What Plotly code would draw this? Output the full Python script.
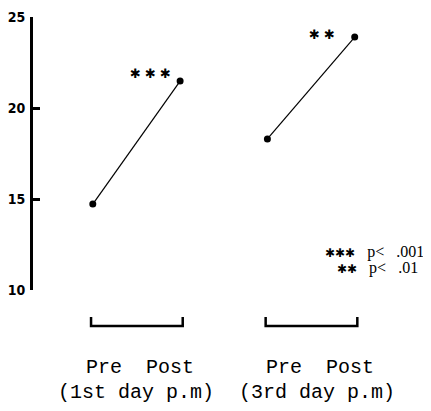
import plotly.graph_objects as go

# ---- data ----
group_labels = ["(1st day p.m)", "(3rd day p.m)"]
phase_labels = ["Pre", "Post"]
pre_values = [14.72, 18.3]
post_values = [21.48, 23.9]
star_counts = [3, 2]
legend_stars = [3, 2]
legend_texts = ["p<", ".001", ".01"]
y_ticks = [10, 15, 20, 25]

STAR = "\u2731"
NB = "\u00a0"
MONO = "Liberation Mono, Courier New, monospace"
SERIF = "Liberation Serif, Times New Roman, serif"
TICKFONT = "Liberation Sans Narrow, DejaVu Sans Condensed, Arial Narrow, sans-serif"

fig = go.Figure()

annotations = []
shapes = []
for g, (pre, post) in enumerate(zip(pre_values, post_values)):
    xs = [2 * g + 1, 2 * g + 2]
    fig.add_trace(go.Scatter(
        x=xs, y=[pre, post], mode="lines+markers",
        line=dict(color="black", width=1.2),
        marker=dict(color="black", size=7),
        showlegend=False, hoverinfo="skip", cliponaxis=False,
    ))
    # significance stars near the post point
    annotations.append(dict(
        x=xs[1], y=post, xref="x", yref="y", showarrow=False,
        text=NB.join([STAR] * star_counts[g]),
        font=dict(family="DejaVu Sans", size=13, color="black"),
        xshift=-30 if g == 0 else -33, yshift=8 if g == 0 else 3,
    ))
    # bracket under the group
    x0, x1 = xs[0] - 0.02, xs[1] + 0.03
    shapes.append(dict(
        type="path", xref="x", yref="paper",
        path=f"M {x0},-0.099 L {x0},-0.132 L {x1},-0.132 L {x1},-0.099",
        line=dict(color="black", width=2.5),
    ))
    mid = (xs[0] + xs[1]) / 2
    annotations.append(dict(
        x=mid, y=-0.285, xref="x", yref="paper", showarrow=False,
        text=(NB + NB).join(phase_labels),
        font=dict(family=MONO, size=20, color="black"),
        xshift=4 if g == 0 else 9, yanchor="middle",
    ))
    annotations.append(dict(
        x=mid, y=-0.377, xref="x", yref="paper", showarrow=False,
        text=group_labels[g].replace(" ", NB),
        font=dict(family=MONO, size=20, color="black"),
        xshift=0 if g == 0 else 6, yanchor="middle",
    ))

# significance legend (two lines in one text block)
def star_span(n):
    return f"<span style='font-family:DejaVu Sans;font-size:12px'>{STAR * n}</span>"

def text_span(s):
    return f"<span style='font-size:16px'>{s}</span>"

line1 = (star_span(legend_stars[0])
         + text_span(NB * 3 + legend_texts[0] + NB * 3 + legend_texts[1]))
line2 = (text_span(NB * 3) + star_span(legend_stars[1])
         + text_span(NB * 3 + legend_texts[0] + NB * 3 + legend_texts[2]))
annotations.append(dict(
    x=0.729, y=0.11, xref="paper", yref="paper",
    showarrow=False, xanchor="left", yanchor="middle", align="left",
    text=f"{line1}<br>{line2}",
    font=dict(family=SERIF, size=12.3, color="black"),
))

# the page body has an 8px margin, so the figure is offset by 8px
fig.update_layout(
    width=423, height=403,
    margin=dict(l=25, r=0, t=9, b=121, autoexpand=False),
    paper_bgcolor="white", plot_bgcolor="white",
    showlegend=False,
    xaxis=dict(range=[0.315, 4.874], visible=False, fixedrange=True),
    yaxis=dict(
        range=[10, 25], tickvals=y_ticks, ticktext=[str(v) for v in y_ticks],
        showgrid=False, zeroline=False, showline=True,
        linecolor="black", linewidth=3,
        ticks="inside", ticklen=7, tickwidth=2.5, tickcolor="black",
        tickfont=dict(family=TICKFONT, size=14, color="black", weight="bold"),
        ticklabelstandoff=2, fixedrange=True, automargin=False,
    ),
    annotations=annotations,
    shapes=shapes,
)

fig.write_html("out.html")
